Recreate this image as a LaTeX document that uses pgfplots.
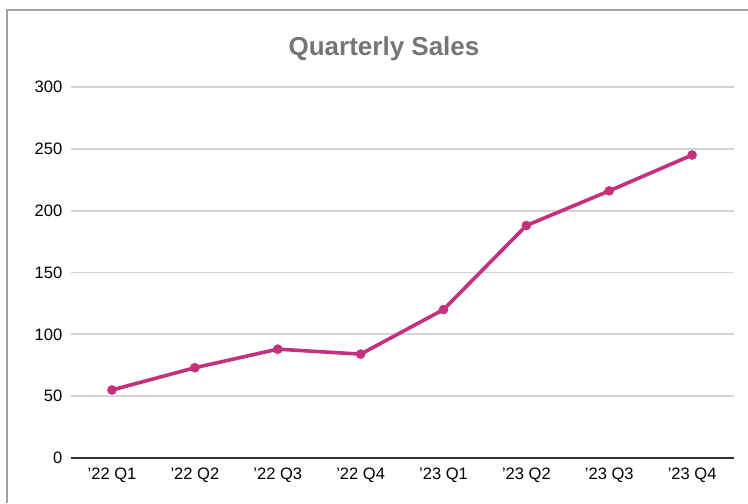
\documentclass[border=0pt]{standalone}
\usepackage{fontspec}
\setmainfont{Liberation Sans}
\usepackage{pgfplots}
\pgfplotsset{compat=1.18}
\definecolor{linec}{RGB}{196,48,125}
\definecolor{gridc}{RGB}{212,212,212}
\definecolor{framec}{RGB}{160,160,160}
\definecolor{titlec}{RGB}{117,117,117}
\begin{document}
\begin{tikzpicture}
\path[use as bounding box] (0pt,0pt) rectangle (561pt,377.25pt);
\draw[framec, line width=1.1pt] (5.25pt,0pt) -- (5.25pt,369.75pt) -- (561pt,369.75pt);
\begin{axis}[
  at={(84pt,33.75pt)}, anchor=origin, scale only axis,
  width=497.25pt, height=278.25pt,
  xmin=-0.5, xmax=7.5, ymin=0, ymax=300,
  xtick={0,...,7},
  xticklabels={'22 Q1,'22 Q2,'22 Q3,'22 Q4,'23 Q1,'23 Q2,'23 Q3,'23 Q4},
  ytick={50,100,...,300},
  extra y ticks={0},
  extra y tick style={grid=major, grid style={black!80, line width=1.3pt}},
  ymajorgrids,
  grid style={gridc, line width=1.4pt},
  axis line style={draw=none},
  major tick length=0pt,
  tick style={draw=none},
  /pgf/number format/assume math mode=true,
  ticklabel style={font=\fontsize{12.4}{14}\selectfont, text=black},
  yticklabel style={inner sep=0pt, xshift=-6pt},
  xticklabel style={inner sep=0pt, yshift=-7.5pt},
  clip=false,
]
\addplot[linec, line width=2.7pt, mark=*, mark size=3.4pt, mark options={solid, fill=linec, draw=linec, line width=0.4pt}]
  coordinates {(0,55) (1,73) (2,88) (3,84) (4,120) (5,188) (6,216) (7,245)};
\end{axis}
\node[anchor=base, font=\bfseries\fontsize{19.5}{22}\selectfont, text=titlec] at (288pt,335.6pt) {Quarterly Sales};
\end{tikzpicture}
\end{document}
